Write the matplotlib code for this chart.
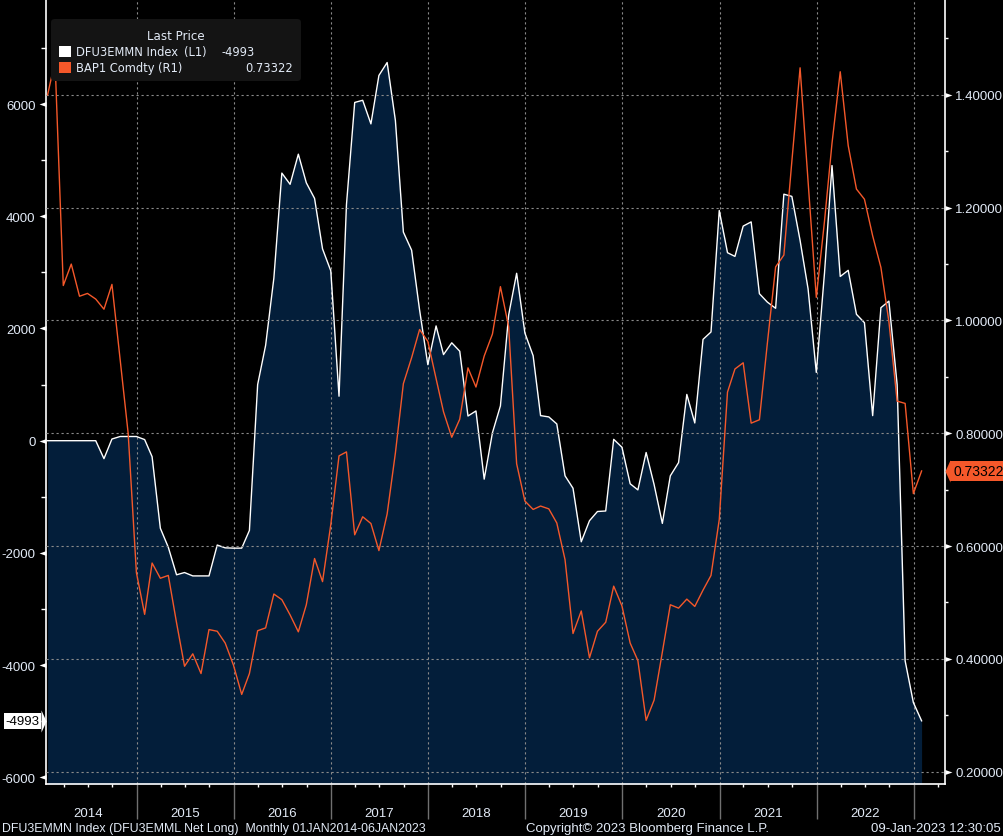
import numpy as np
import pandas as pd
import matplotlib
matplotlib.use('Agg')
import matplotlib.pyplot as plt
import matplotlib.dates as mdates
from matplotlib.patches import FancyBboxPatch, Rectangle
from matplotlib.path import Path
from matplotlib.markers import MarkerStyle
from matplotlib.ticker import FixedLocator, FixedFormatter, NullFormatter
from matplotlib.transforms import blended_transform_factory
from matplotlib import font_manager

# ---------------- data ----------------
start_date = '2014-01-31'
net_long = [0, 0, 0, 0, 0, 0, 0, -320, 30, 75, 75, 75,
            20, -285, -1560, -1900, -2390, -2350, -2410, -2410, -2410, -1860, -1910, -1915,
            -1915, -1600, 1000, 1700, 2900, 4770, 4570, 5107, 4597, 4319, 3419, 3029,
            793, 4207, 6029, 6068, 5647, 6510, 6741, 5708, 3718, 3396, 2330, 1355,
            2046, 1535, 1745, 1595, 440, 530, -685, 141, 620, 2240, 2984, 1920,
            1515, 447, 424, 299, -626, -847, -1802, -1426, -1262, -1253, 25, -116,
            -768, -877, -210, -783, -1474, -626, -390, 825, 316, 1806, 1938, 4103,
            3351, 3285, 3825, 3900, 2620, 2470, 2360, 4394, 4355, 3570, 2708, 1217,
            3000, 4904, 2927, 3037, 2253, 2103, 447, 2371, 2488, 1000, -3922, -4667,
            -4993]
bap1 = [1.400, 1.460, 1.062, 1.100, 1.043, 1.048, 1.038, 1.020, 1.064, 0.930, 0.800, 0.553,
        0.479, 0.570, 0.543, 0.548, 0.464, 0.387, 0.409, 0.374, 0.452, 0.449, 0.428, 0.389,
        0.337, 0.374, 0.450, 0.455, 0.515, 0.505, 0.478, 0.448, 0.496, 0.578, 0.537, 0.638,
        0.760, 0.767, 0.620, 0.652, 0.640, 0.592, 0.657, 0.765, 0.888, 0.934, 0.984, 0.963,
        0.897, 0.838, 0.793, 0.825, 0.916, 0.882, 0.937, 0.976, 1.060, 0.989, 0.746, 0.680,
        0.665, 0.671, 0.666, 0.641, 0.576, 0.445, 0.485, 0.402, 0.449, 0.465, 0.529, 0.494,
        0.428, 0.397, 0.291, 0.327, 0.412, 0.496, 0.490, 0.506, 0.493, 0.522, 0.548, 0.647,
        0.873, 0.914, 0.925, 0.818, 0.824, 0.960, 1.095, 1.116, 1.282, 1.448, 1.247, 1.041,
        1.177, 1.314, 1.441, 1.310, 1.233, 1.215, 1.150, 1.094, 0.998, 0.857, 0.853, 0.693,
        0.73322]

years = list(range(2014, 2023))
year_labels = [str(y) for y in years]
left_ticks = [-6000, -4000, -2000, 0, 2000, 4000, 6000]
left_tick_labels = [str(v) for v in left_ticks]
right_ticks = [0.2, 0.4, 0.6, 0.8, 1.0, 1.2, 1.4]
right_tick_labels = ['%.5f' % v for v in right_ticks]
series_names = ['DFU3EMMN Index', 'BAP1 Comdty']
series_axes = ['(L1)', '(R1)']
legend_title = 'Last Price'
footer_left = 'DFU3EMMN Index (DFU3EMML Net Long)  Monthly 01JAN2014-06JAN2023'
footer_mid = 'Copyright\u00a9 2023 Bloomberg Finance L.P.'
footer_right = '09-Jan-2023 12:30:05'

dates = pd.date_range(start_date, periods=len(net_long), freq=pd.offsets.MonthEnd())

# ---------------- style ----------------
names = {f.name for f in font_manager.fontManager.ttflist}
narrow = 'Liberation Sans Narrow' if 'Liberation Sans Narrow' in names else 'Liberation Sans'
plt.rcParams['font.family'] = ['Liberation Sans', 'DejaVu Sans']
plt.rcParams['axes.unicode_minus'] = False

BG = '#000000'
NAVY = '#031e3a'
ORANGE = '#f5582a'
WHITE = '#ffffff'
TXT = '#e2eaf6'
GRID = '#8a8a8a'

W, H = 1004, 837
fig = plt.figure(figsize=(W / 100, H / 100), dpi=100, facecolor=BG)


def fx(px):
    return px / W


def fy(py):
    return 1 - py / H


ax = fig.add_axes([fx(46), fy(785), (945 - 46) / W, 785 / H])
ax.set_facecolor(BG)
ax2 = ax.twinx()

ylo_l, yhi_l = -6119, 7873
ylo_r, yhi_r = 0.1782, 1.570
ax.set_ylim(ylo_l, yhi_l)
ax2.set_ylim(ylo_r, yhi_r)
ax.set_xlim(pd.Timestamp('2014-01-25'), pd.Timestamp('2023-04-29'))

# white series with navy fill
ax.fill_between(dates, net_long, ylo_l, color=NAVY, lw=0, zorder=1)
ax.plot(dates, net_long, color=WHITE, lw=1.0, zorder=3)

# orange series
ax2.plot(dates, bap1, color=ORANGE, lw=1.0, zorder=3)

# spines
for s in ['top', 'right']:
    ax.spines[s].set_visible(False)
for s in ['top', 'left', 'bottom']:
    ax2.spines[s].set_visible(False)
ax.spines['left'].set_color(WHITE)
ax.spines['left'].set_linewidth(1.2)
ax.spines['bottom'].set_color(WHITE)
ax.spines['bottom'].set_linewidth(1.2)
ax2.spines['right'].set_color(WHITE)
ax2.spines['right'].set_linewidth(1.2)

# x axis: year boundaries (major) and quarters (minor)
boundaries = [mdates.date2num(pd.Timestamp(f'{y + 1}-01-01')) for y in years]
ax.xaxis.set_major_locator(FixedLocator(boundaries))
ax.xaxis.set_major_formatter(NullFormatter())
ax.xaxis.set_minor_locator(mdates.MonthLocator(bymonth=[1, 4, 7, 10]))
ax.xaxis.set_minor_formatter(NullFormatter())
ax.tick_params(axis='x', which='major', length=25, width=1.0, color='#707070', direction='out')
ax.tick_params(axis='x', which='minor', length=2.5, width=1.0, color=WHITE, direction='out')
ax.grid(axis='x', which='major', color=GRID, lw=0.8, ls=(0, (2, 2.5)))
ax.set_axisbelow('line')

blend = blended_transform_factory(ax.transData, ax.transAxes)
for y, lab in zip(years, year_labels):
    ax.text(mdates.date2num(pd.Timestamp(f'{y}-07-02')), -29 / 785, lab, transform=blend,
            ha='center', va='center', color=TXT, fontsize=9.5, family=narrow)

# left y axis
ax.yaxis.set_major_locator(FixedLocator(left_ticks))
ax.yaxis.set_major_formatter(FixedFormatter(left_tick_labels))
ax.yaxis.set_minor_locator(FixedLocator(list(range(-6000, 7001, 1000))))
ax.tick_params(axis='y', which='major', length=0, pad=7.5, labelsize=9.5, labelcolor=TXT)
ax.tick_params(axis='y', which='minor', length=3.5, width=1.0, color=WHITE, direction='out')
for t in ax.get_yticklabels():
    t.set_family(narrow)

# right y axis
ax2.yaxis.set_major_locator(FixedLocator(right_ticks))
ax2.yaxis.set_major_formatter(FixedFormatter(right_tick_labels))
ax2.yaxis.set_minor_locator(FixedLocator([0.3, 0.5, 0.7, 0.9, 1.1, 1.3, 1.5]))
ax2.tick_params(axis='y', which='major', length=0, pad=7.5, labelsize=9.5, labelcolor=TXT)
ax2.tick_params(axis='y', which='minor', length=2.5, width=1.0, color=WHITE, direction='out')
for t in ax2.get_yticklabels():
    t.set_family(narrow)
ax2.grid(axis='y', which='major', color=GRID, lw=0.8, ls=(0, (2, 2.5)))
ax2.set_axisbelow(True)

# triangle tick markers
tri_left = MarkerStyle(Path([(0, 0.35), (0, -0.35), (-1, 0), (0, 0.35)]))
tri_right = MarkerStyle(Path([(0, 0.35), (0, -0.35), (1, 0), (0, 0.35)]))
ax.plot(np.zeros(len(left_ticks)), left_ticks, ls='none', marker=tri_left, ms=10,
        mfc=WHITE, mec=WHITE, mew=0, transform=ax.get_yaxis_transform(), clip_on=False, zorder=5)
ax2.plot(np.ones(len(right_ticks)), right_ticks, ls='none', marker=tri_right, ms=10,
         mfc=WHITE, mec=WHITE, mew=0, transform=ax2.get_yaxis_transform(), clip_on=False, zorder=5)

# last value tags
last_l = net_long[-1]
last_r = bap1[-1]
tag_l = MarkerStyle(Path([(-0.45, 1), (-0.45, -1), (0, 0), (-0.45, 1)]))
tag_r = MarkerStyle(Path([(0.45, 1), (0.45, -1), (0, 0), (0.45, 1)]))
ax.plot([0], [last_l], ls='none', marker=tag_l, ms=16, mfc=WHITE, mew=0,
        transform=ax.get_yaxis_transform(), clip_on=False, zorder=6)
ax.annotate('%d' % last_l, xy=(0, last_l), xycoords=ax.get_yaxis_transform(),
            xytext=(-6.5, 0), textcoords='offset pixels', ha='right', va='center',
            fontsize=9.5, family=narrow, color='black', annotation_clip=False, zorder=7,
            bbox=dict(boxstyle='square,pad=0.15', fc=WHITE, ec='none'))
ax2.plot([1], [last_r], ls='none', marker=tag_r, ms=16, mfc=ORANGE, mew=0,
         transform=ax2.get_yaxis_transform(), clip_on=False, zorder=6)
ax2.annotate('%.5f' % last_r, xy=(1, last_r), xycoords=ax2.get_yaxis_transform(),
             xytext=(8, 0), textcoords='offset pixels', ha='left', va='center',
             fontsize=10, family=narrow, color='black', annotation_clip=False, zorder=7,
             bbox=dict(boxstyle='square,pad=0.2', fc=ORANGE, ec='none'))

# legend (Bloomberg style box)
leg = FancyBboxPatch((fx(51), fy(82)), 250 / W, 62 / H, boxstyle='round,pad=0,rounding_size=0.004',
                     transform=fig.transFigure, fc='#141414', ec='none', zorder=10)
fig.patches.append(leg)
fig.text(fx(176), fy(36), legend_title, ha='center', va='center', color=TXT, fontsize=8.6,
         family='DejaVu Sans', zorder=11)
row_y = [52.5, 68.5]
colors = [WHITE, ORANGE]
values = ['%d' % last_l, '%.5f' % last_r]
axis_x = [184, 158]
val_right = [255, 293]
for name, axl, col, val, yy, ax_x, vr in zip(series_names, series_axes, colors, values,
                                             row_y, axis_x, val_right):
    fig.patches.append(Rectangle((fx(59.5), fy(yy + 5.7)), 11.4 / W, 11.4 / H,
                                 transform=fig.transFigure, fc=col, ec='none', zorder=11))
    fig.text(fx(76), fy(yy), name, ha='left', va='center', color=TXT,
             fontsize=8.3, family='DejaVu Sans', zorder=11)
    fig.text(fx(ax_x), fy(yy), axl, ha='left', va='center', color=TXT,
             fontsize=8.3, family='DejaVu Sans', zorder=11)
    fig.text(fx(vr), fy(yy), val, ha='right', va='center', color=TXT,
             fontsize=8.3, family='DejaVu Sans', zorder=11)

# footer
fig.text(fx(2), fy(829), footer_left, ha='left', va='center', color=TXT, fontsize=8.9, family=narrow)
fig.text(fx(648), fy(829), footer_mid, ha='center', va='center', color=TXT, fontsize=9.5, family=narrow)
fig.text(fx(1001), fy(829), footer_right, ha='right', va='center', color=TXT, fontsize=9.5, family=narrow)

fig.savefig('out.png', dpi=100, facecolor=BG)
